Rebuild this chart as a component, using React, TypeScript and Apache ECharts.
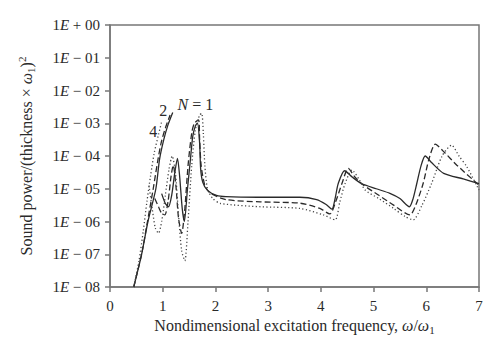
import React, { useEffect, useRef } from "react";
import * as echarts from "echarts";

// N = 1 (solid)
const n1RiseX = [0.45, 0.6, 0.72, 0.87, 0.94, 1.02, 1.1, 1.19];
const n1RiseLog = [-8, -7, -6, -5, -4.1, -3.5, -3.05, -2.67];
const n1MainX = [0.98, 1.05, 1.11, 1.17, 1.23, 1.28, 1.32, 1.37, 1.41, 1.47, 1.52, 1.57, 1.62, 1.66, 1.7, 1.72, 1.76, 1.85, 2.02, 2.2, 2.8, 3.6, 3.92, 4.1, 4.21, 4.27, 4.33, 4.45, 4.6, 4.77, 5.05, 5.31, 5.5, 5.68, 5.75, 5.82, 5.9, 5.98, 6.1, 6.33, 6.7, 7.0];
const n1MainLog = [-5.15, -5.45, -5.55, -5.2, -4.5, -4.07, -4.6, -5.6, -6.0, -5.0, -4.2, -3.4, -3.08, -3.0, -3.6, -4.4, -4.8, -5.05, -5.2, -5.24, -5.26, -5.26, -5.33, -5.48, -5.62, -5.3, -4.84, -4.45, -4.65, -4.84, -5.0, -5.14, -5.3, -5.55, -5.3, -4.84, -4.3, -4.0, -4.2, -4.53, -4.7, -4.84];

// N = 2 (dashed)
const n2RiseX = [0.45, 0.6, 0.7, 0.82, 0.9, 0.97, 1.05, 1.14];
const n2RiseLog = [-8, -7, -6.1, -5, -4.2, -3.6, -3.15, -2.75];
const n2MainX = [0.85, 0.92, 0.98, 1.04, 1.1, 1.16, 1.2, 1.25, 1.3, 1.36, 1.42, 1.48, 1.55, 1.6, 1.68, 1.7, 1.73, 1.8, 1.9, 2.2, 2.85, 3.6, 3.98, 4.17, 4.28, 4.4, 4.52, 4.65, 4.81, 5.1, 5.38, 5.69, 5.8, 5.94, 6.05, 6.17, 6.35, 6.58, 7.0];
const n2MainLog = [-5.3, -5.55, -5.75, -5.8, -5.4, -4.6, -4.28, -4.9, -5.9, -6.36, -5.6, -4.3, -3.3, -3.0, -2.9, -3.5, -4.3, -4.9, -5.13, -5.33, -5.4, -5.44, -5.6, -5.77, -5.4, -4.84, -4.38, -4.65, -4.89, -5.2, -5.5, -5.8, -5.5, -4.84, -4.1, -3.64, -3.9, -4.28, -4.89];

// N = 4 (dotted)
const n4RiseX = [0.45, 0.55, 0.63, 0.7, 0.77, 0.84, 0.92, 0.98];
const n4RiseLog = [-8, -7.2, -6.3, -5.4, -4.6, -3.9, -3.35, -2.95];
const n4MainX = [0.74, 0.8, 0.86, 0.92, 0.98, 1.05, 1.12, 1.18, 1.24, 1.3, 1.36, 1.42, 1.48, 1.55, 1.62, 1.7, 1.74, 1.77, 1.8, 1.85, 1.95, 2.1, 2.85, 3.6, 4.05, 4.27, 4.36, 4.46, 4.59, 4.72, 4.84, 5.1, 5.38, 5.6, 5.75, 5.92, 6.1, 6.3, 6.48, 6.62, 6.77, 7.0];
const n4MainLog = [-4.9, -5.6, -6.2, -6.36, -6.0, -5.2, -4.4, -4.0, -4.5, -5.8, -6.9, -7.2, -6.0, -4.3, -3.2, -2.75, -2.7, -3.3, -4.3, -5.0, -5.3, -5.45, -5.55, -5.6, -5.8, -5.95, -5.4, -4.84, -4.43, -4.7, -5.04, -5.3, -5.6, -5.85, -5.95, -5.5, -4.84, -4.0, -3.67, -4.0, -4.33, -5.04];

const xTicks = [0, 1, 2, 3, 4, 5, 6, 7];

const toPairs = (xs: number[], logs: number[]) =>
  xs.map((x, i) => [x, Math.pow(10, logs[i])]);

const FONT = "Liberation Serif";
const INK = "#2a2a2a";

export default function App() {
  const ref = useRef<HTMLDivElement>(null);
  useEffect(() => {
    if (!ref.current) return;
    const chart = echarts.init(ref.current, undefined, { renderer: "svg" });
    const solid = { color: INK, width: 1.3, type: "solid" as any };
    const dashed = { color: INK, width: 1.3, type: [6, 3] as any };
    const dotted = { color: "#444", width: 1.3, type: [1.2, 2.4] as any };
    const mk = (name: string, data: number[][], ls: any, mp?: any) => ({
      name,
      type: "line",
      data,
      showSymbol: false,
      symbol: "none",
      smooth: 0.25,
      lineStyle: ls,
      z: 3,
      markPoint: mp,
    });
    const label = (coord: number[], text: string, rich?: any) => ({
      symbol: "circle",
      symbolSize: 0,
      silent: true,
      data: [
        {
          coord,
          label: {
            show: true,
            position: "inside",
            formatter: text,
            fontFamily: FONT,
            fontSize: 16,
            color: INK,
            rich,
          },
        },
      ],
    });
    chart.setOption({
      animation: false,
      grid: {
        left: 110,
        right: 21,
        top: 25,
        bottom: 65,
        show: true,
        borderColor: "#777",
        borderWidth: 1.5,
      },
      xAxis: {
        type: "value",
        min: 0,
        max: 7,
        interval: 1,
        name: "Nondimensional excitation frequency, {i|ω}/{i|ω}{s|1}",
        nameLocation: "middle",
        nameGap: 26,
        nameTextStyle: {
          fontFamily: FONT,
          fontSize: 16,
          color: INK,
          rich: {
            i: { fontFamily: FONT, fontStyle: "italic", fontSize: 16, color: INK },
            s: { fontFamily: FONT, fontSize: 11, color: INK, verticalAlign: "bottom", padding: [9, 0, 0, 0] },
          },
        },
        axisLine: { show: true, lineStyle: { color: "#777", width: 1.5 } },
        axisTick: { show: true, inside: false, length: 5, lineStyle: { color: "#777", width: 1.5 } },
        axisLabel: {
          fontFamily: FONT,
          fontSize: 15,
          color: INK,
          margin: 11,
          formatter: (v: number) => (xTicks.includes(v) ? String(v) : ""),
        },
        splitLine: { show: false },
      },
      yAxis: {
        type: "log",
        logBase: 10,
        min: 1e-8,
        max: 1,
        interval: 1,
        name: "Sound power/(thickness × {i|ω}{s|1}){p|2}",
        nameLocation: "middle",
        nameGap: 74,
        nameRotate: 90,
        nameTextStyle: {
          fontFamily: FONT,
          fontSize: 16,
          color: INK,
          rich: {
            i: { fontFamily: FONT, fontStyle: "italic", fontSize: 16, color: INK },
            s: { fontFamily: FONT, fontSize: 11, color: INK, verticalAlign: "bottom", padding: [9, 0, 0, 0] },
            p: { fontFamily: FONT, fontSize: 11, color: INK, verticalAlign: "top", padding: [0, 0, 9, 0] },
          },
        },
        axisLine: { show: true, lineStyle: { color: "#777", width: 1.5 } },
        axisTick: { show: true, inside: false, length: 5, lineStyle: { color: "#777", width: 1.5 } },
        minorTick: { show: false },
        axisLabel: {
          fontFamily: FONT,
          fontSize: 15,
          color: INK,
          margin: 10,
          formatter: (v: number) => {
            const k = Math.round(Math.log10(v));
            const sign = k >= 0 ? "+" : "−";
            const a = Math.abs(k);
            return `1{e|E} ${sign} ${a < 10 ? "0" + a : a}`;
          },
          rich: {
            e: { fontFamily: FONT, fontStyle: "italic", fontSize: 15, color: INK },
          },
        },
        splitLine: { show: false },
      },
      series: [
        mk("N1a", toPairs(n1RiseX, n1RiseLog), solid),
        mk("N1b", toPairs(n1MainX, n1MainLog), solid, label([1.62, Math.pow(10, -2.42)], "{n|N} = 1", {
          n: { fontFamily: FONT, fontStyle: "italic", fontSize: 16, color: INK },
        })),
        mk("N2a", toPairs(n2RiseX, n2RiseLog), dashed, label([1.01, Math.pow(10, -2.62)], "2")),
        mk("N2b", toPairs(n2MainX, n2MainLog), dashed),
        mk("N4a", toPairs(n4RiseX, n4RiseLog), dotted, label([0.82, Math.pow(10, -3.25)], "4")),
        mk("N4b", toPairs(n4MainX, n4MainLog), dotted),
      ],
    });
    return () => chart.dispose();
  }, []);
  return <div ref={ref} style={{ width: 500, height: 352, margin: -8 }} />;
}
